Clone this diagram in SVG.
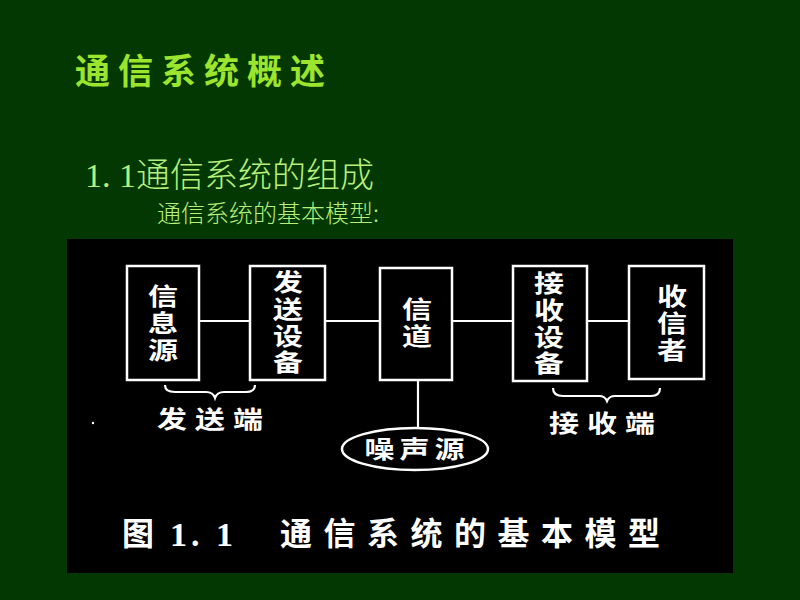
<svg xmlns="http://www.w3.org/2000/svg" width="800" height="600" viewBox="0 0 800 600">
<style>
.cjk{font-family:"Noto Sans CJK SC","Noto Sans",sans-serif}
.w{fill:#fff;font-weight:bold}
.box{fill:none;stroke:#fff;stroke-width:2.5}
.ln{fill:none;stroke:#fff;stroke-width:2.2}
.vt{font-size:30px;writing-mode:vertical-rl;text-anchor:start}
</style>
<rect width="800" height="600" fill="#033803"/>
<text x="75" y="84" class="cjk" font-size="35" font-weight="bold" letter-spacing="8" fill="#9be52e">通信系统概述</text>
<text x="85" y="187" font-size="34" fill="#b6f07a"><tspan font-family="Liberation Serif,serif">1. 1</tspan><tspan font-family="Noto Sans CJK SC,sans-serif" font-weight="300">通信系统的组成</tspan></text>
<text x="157" y="222" class="cjk" font-size="24" font-weight="300" fill="#b6f07a">通信系统的基本模型:</text>
<rect x="67" y="239" width="666" height="334" fill="#000"/>
<g id="connectors">
<line class="ln" x1="199" y1="321" x2="250" y2="321"/>
<line class="ln" x1="325" y1="321" x2="380" y2="321"/>
<line class="ln" x1="452" y1="321" x2="513" y2="321"/>
<line class="ln" x1="587" y1="321" x2="629" y2="321"/>
<line class="ln" x1="418" y1="380" x2="418" y2="428"/>
<path class="ln" d="M165,385 Q165,392 175,392 L206,392 Q213,392 215,398 Q217,392 224,392 L246,392 Q255,392 255,385"/>
<path class="ln" d="M553,388 Q553,396 563,396 L599,396 Q605,396 607,401 Q609,396 615,396 L651,396 Q660,396 660,388"/>
</g>
<g id="n1">
<rect class="box" x="127" y="266" width="72" height="114"/>
<text class="cjk w vt" letter-spacing="3.75" transform="translate(163,0) scale(1,0.8)" x="0" y="355">信息源</text>
</g>
<g id="n2">
<rect class="box" x="250" y="266" width="75" height="114"/>
<text class="cjk w vt" letter-spacing="3.4" transform="translate(288,0) scale(1,0.8)" x="0" y="337.5">发送设备</text>
</g>
<g id="n3">
<rect class="box" x="380" y="268" width="72" height="112"/>
<text class="cjk w vt" letter-spacing="3.75" transform="translate(417,0) scale(1,0.8)" x="0" y="371">信道</text>
</g>
<g id="n4">
<rect class="box" x="513" y="266" width="74" height="115"/>
<text class="cjk w vt" letter-spacing="3.4" transform="translate(549,0) scale(1,0.8)" x="0" y="339">接收设备</text>
</g>
<g id="n5">
<rect class="box" x="629" y="266" width="75" height="113"/>
<text class="cjk w vt" letter-spacing="3.4" transform="translate(672,0) scale(1,0.8)" x="0" y="355">收信者</text>
</g>
<g id="n6">
<ellipse class="box" cx="415" cy="449" rx="73" ry="21"/>
<text class="cjk w" font-size="30" text-anchor="middle" letter-spacing="5" transform="translate(417,0) scale(1,0.8)"><tspan x="0" y="573">噪声源</tspan></text>
</g>
<g id="labels">
<text class="cjk w" font-size="30" letter-spacing="8" transform="translate(157,0) scale(1,0.8)"><tspan x="0" y="535">发送端</tspan></text>
<text class="cjk w" font-size="30" letter-spacing="8" transform="translate(549,0) scale(1,0.8)"><tspan x="0" y="540">接收端</tspan></text>
<circle cx="93" cy="423" r="1.2" fill="#fff"/>
<text class="cjk w" font-size="32" x="122" y="545">图</text>
<text font-family="Liberation Serif,serif" font-weight="bold" font-size="34" fill="#fff" x="170" y="546" letter-spacing="4">1. 1</text>
<text class="cjk w" font-size="32" x="280" y="545" letter-spacing="11.5">通信系统的基本模型</text>
</g>
</svg>
